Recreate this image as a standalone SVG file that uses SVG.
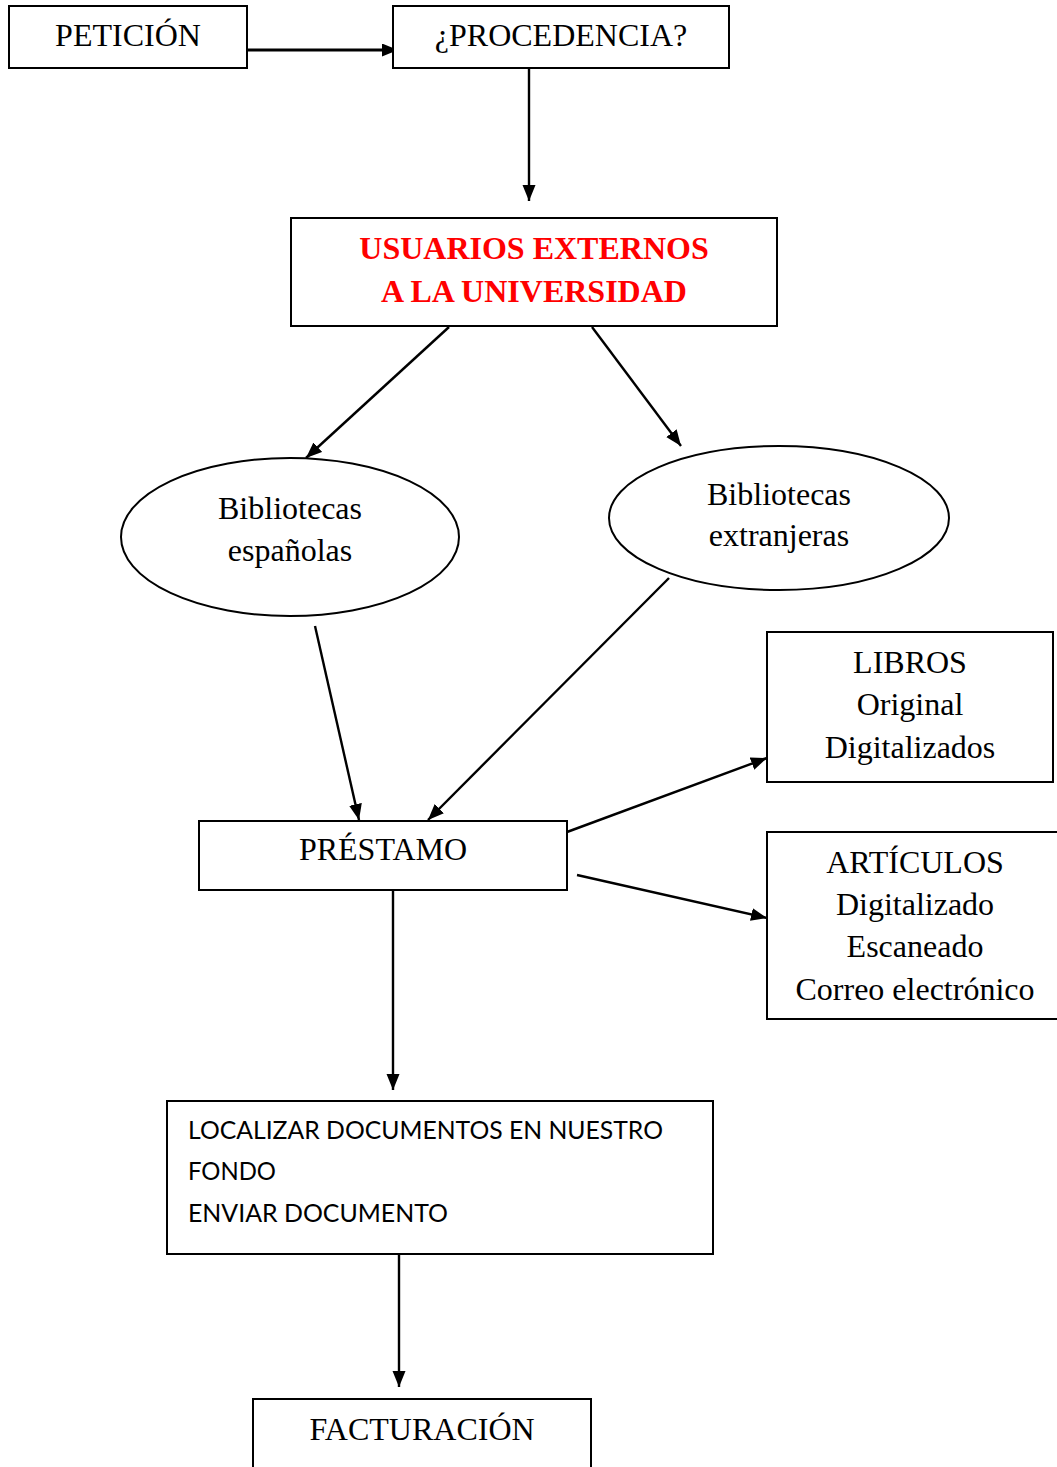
<svg xmlns="http://www.w3.org/2000/svg" width="1057" height="1467" viewBox="0 0 1057 1467">
<style>
.box{fill:#fff;stroke:#000;stroke-width:2}
.t{font-family:"Liberation Serif","Times New Roman",serif;font-size:32px;fill:#000;text-anchor:middle}
.r{font-family:"Liberation Serif","Times New Roman",serif;font-size:32px;font-weight:bold;fill:#ff0000;text-anchor:middle}
.s{font-family:Lato,"Liberation Sans",sans-serif;font-size:25px;fill:#000}
.c{stroke:#000;stroke-width:2.4;fill:none;marker-end:url(#ah)}
</style>
<defs>
<marker id="ah" markerUnits="userSpaceOnUse" markerWidth="17" markerHeight="14" refX="16" refY="6.5" orient="auto">
<path d="M0,0 L16,6.5 L0,13 z" fill="#000"/>
</marker>
</defs>
<rect width="1057" height="1467" fill="#fff"/>
<g id="connectors">
<line class="c" x1="247" y1="50" x2="398" y2="50" style="stroke-width:3"/>
<line class="c" x1="529" y1="68" x2="529" y2="201"/>
<line class="c" x1="449" y1="327" x2="306" y2="458"/>
<line class="c" x1="592" y1="327" x2="681" y2="446"/>
<line class="c" x1="315" y1="626" x2="359" y2="820"/>
<line class="c" x1="669" y1="578" x2="428" y2="820"/>
<line class="c" x1="567" y1="832" x2="767" y2="758"/>
<line class="c" x1="577" y1="875" x2="767" y2="918"/>
<line class="c" x1="393" y1="890" x2="393" y2="1090"/>
<line class="c" x1="399" y1="1254" x2="399" y2="1387"/>
</g>
<g id="peticion">
<rect class="box" x="9" y="6" width="238" height="62"/>
<text class="t" x="128" y="46">PETICIÓN</text>
</g>
<g id="procedencia">
<rect class="box" x="393" y="6" width="336" height="62"/>
<text class="t" x="561" y="46">¿PROCEDENCIA?</text>
</g>
<g id="usuarios">
<rect class="box" x="291" y="218" width="486" height="108"/>
<text class="r" x="534" y="259">USUARIOS EXTERNOS</text>
<text class="r" x="534" y="302">A LA UNIVERSIDAD</text>
</g>
<g id="espanolas">
<ellipse class="box" cx="290" cy="537" rx="169" ry="79"/>
<text class="t" x="290" y="519">Bibliotecas</text>
<text class="t" x="290" y="561">españolas</text>
</g>
<g id="extranjeras">
<ellipse class="box" cx="779" cy="518" rx="170" ry="72"/>
<text class="t" x="779" y="505">Bibliotecas</text>
<text class="t" x="779" y="546">extranjeras</text>
</g>
<g id="prestamo">
<rect class="box" x="199" y="821" width="368" height="69"/>
<text class="t" x="383" y="860">PRÉSTAMO</text>
</g>
<g id="libros">
<rect class="box" x="767" y="632" width="286" height="150"/>
<text class="t" x="910" y="673">LIBROS</text>
<text class="t" x="910" y="715">Original</text>
<text class="t" x="910" y="758">Digitalizados</text>
</g>
<g id="articulos">
<rect class="box" x="767" y="832" width="300" height="187"/>
<text class="t" x="915" y="873">ARTÍCULOS</text>
<text class="t" x="915" y="915">Digitalizado</text>
<text class="t" x="915" y="957">Escaneado</text>
<text class="t" x="915" y="1000">Correo electrónico</text>
</g>
<g id="localizar">
<rect class="box" x="167" y="1101" width="546" height="153"/>
<text class="s" x="188" y="1139" textLength="475" lengthAdjust="spacingAndGlyphs">LOCALIZAR DOCUMENTOS EN NUESTRO</text>
<text class="s" x="188" y="1180" textLength="88" lengthAdjust="spacingAndGlyphs">FONDO</text>
<text class="s" x="188" y="1222" textLength="260" lengthAdjust="spacingAndGlyphs">ENVIAR DOCUMENTO</text>
</g>
<g id="facturacion">
<rect class="box" x="253" y="1399" width="338" height="80"/>
<text class="t" x="422" y="1440">FACTURACIÓN</text>
</g>
</svg>
